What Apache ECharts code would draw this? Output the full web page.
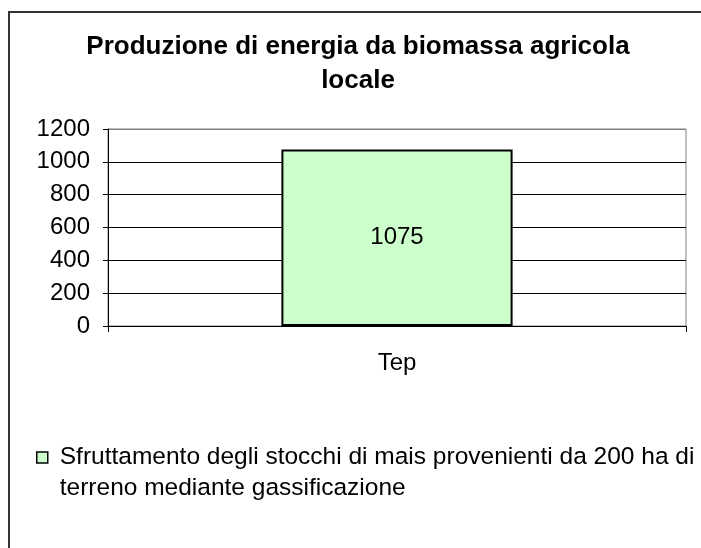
<!DOCTYPE html>
<html>
<head>
<meta charset="utf-8">
<script src="https://cdn.jsdelivr.net/npm/echarts@6/dist/echarts.min.js"></script>
<style>html,body{margin:0;padding:0;background:#fff;}#c{width:701px;height:548px;}</style>
</head>
<body>
<div id="c"></div>
<script>
var titleText = 'Produzione di energia da biomassa agricola\nlocale';
var categories = ['Tep'];
var seriesName = 'Sfruttamento degli stocchi di mais provenienti da 200 ha di terreno mediante gassificazione';
var legendLines = ['Sfruttamento degli stocchi di mais provenienti da 200 ha di', 'terreno mediante gassificazione'];
var values = [1075];
var yMin = 0, yMax = 1200, yStep = 200;

var font = '"Liberation Sans", Arial, sans-serif';
var chart = echarts.init(document.getElementById('c'));
chart.setOption({
  animation: false,
  backgroundColor: '#fff',
  textStyle: { fontFamily: font, color: '#000' },
  graphic: [{
    type: 'polyline', silent: true, z: -10,
    shape: { points: [[9, 560], [9, 12], [720, 12]] },
    style: { fill: 'none', stroke: '#333', lineWidth: 2 }
  }],
  title: {
    text: titleText,
    left: 358, top: 30, padding: 0, textAlign: 'center',
    textStyle: { fontFamily: font, fontSize: 26, fontWeight: 'bold', color: '#000', lineHeight: 34 }
  },
  legend: {
    left: 36, top: 411, padding: 0,
    itemWidth: 11, itemHeight: 11,
    icon: 'rect',
    itemStyle: { color: '#CCFFCC', borderColor: '#000', borderWidth: 1.5 },
    formatter: function () { return '\n' + legendLines.join('\n'); },
    textStyle: { fontFamily: font, fontSize: 24.5, color: '#000', lineHeight: 31, padding: [0, 0, 0, 7] },
    data: [seriesName]
  },
  grid: { left: 108, right: 15, top: 129, bottom: 222, show: true, borderColor: '#808080', borderWidth: 1, containLabel: false },
  xAxis: {
    type: 'category', data: categories, boundaryGap: true,
    axisLine: { show: true, lineStyle: { color: '#000', width: 1 } },
    axisTick: { show: true, length: 6, interval: 0, lineStyle: { color: '#000' } },
    axisLabel: { margin: 25, fontFamily: font, fontSize: 24, color: '#000' },
    splitLine: { show: false }
  },
  yAxis: {
    type: 'value', min: yMin, max: yMax, interval: yStep,
    axisLine: { show: true, lineStyle: { color: '#000', width: 1 } },
    axisTick: { show: true, length: 5, inside: false, lineStyle: { color: '#000' } },
    axisLabel: { margin: 18, fontFamily: font, fontSize: 24, color: '#000', formatter: function (v) { return String(v); } },
    splitLine: { show: true, lineStyle: { color: ['#000', '#000', '#000', '#000', '#000', '#000', '#808080'], width: 1 } }
  },
  series: [{
    type: 'bar', name: seriesName, data: values, barWidth: '40%',
    itemStyle: { color: '#CCFFCC', borderColor: '#000', borderWidth: 2 },
    label: { show: true, position: 'inside', fontFamily: font, fontSize: 24, color: '#000' }
  }]
});
</script>
</body>
</html>
